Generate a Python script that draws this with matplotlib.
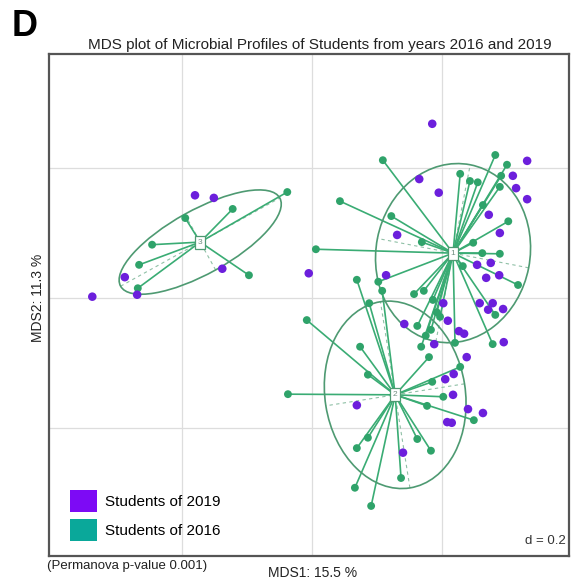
import matplotlib
matplotlib.use("Agg")
import matplotlib.pyplot as plt
from matplotlib.patches import Ellipse, Patch
import numpy as np

plt.rcParams['font.family'] = ['Liberation Sans', 'DejaVu Sans']

# ---- data (MDS coordinates) ----
group_labels = ["3", "1", "2"]
centroid_x = [-0.172, 0.217, 0.128]
centroid_y = [0.086, 0.069, -0.149]

# 2016 students (linked to their group centroid)
g3_x = [-0.038, -0.122, -0.195, -0.246, -0.266, -0.268, -0.097]
g3_y = [0.163, 0.137, 0.123, 0.082, 0.051, 0.015, 0.035]

g1_x = [0.109, 0.282, 0.300, 0.228, 0.243, 0.255, 0.289, 0.291, 0.263, 0.043,
        0.122, 0.302, 0.006, 0.169, 0.248, 0.262, 0.289, 0.232, 0.317, 0.157,
        0.172, 0.197, 0.162, 0.183, 0.168, 0.220, 0.278, 0.282, 0.102,
        0.186, 0.192, 0.175]
g1_y = [0.212, 0.220, 0.205, 0.191, 0.180, 0.178, 0.171, 0.188, 0.143, 0.149,
        0.126, 0.118, 0.075, 0.086, 0.085, 0.069, 0.068, 0.049, 0.020, 0.006,
        0.011, -0.029, -0.043, -0.049, -0.075, -0.069, -0.071, -0.026, 0.025,
        -0.003, -0.022, -0.058]

g2_x = [-0.008, 0.069, 0.088, 0.108, 0.074, 0.086, -0.037, 0.069, 0.086, 0.066,
        0.091, 0.137, 0.162, 0.183, 0.177, 0.202, 0.185, 0.228, 0.249, 0.180]
g2_y = [-0.034, 0.028, -0.008, 0.011, -0.075, -0.118, -0.148, -0.231, -0.215, -0.292,
        -0.320, -0.277, -0.217, -0.235, -0.166, -0.152, -0.129, -0.106, -0.188, -0.091]

# 2019 students
p19_x = [-0.180, -0.151, -0.288, -0.269, -0.338, -0.138, -0.005,
         0.185, 0.331, 0.309, 0.314, 0.331, 0.165, 0.195, 0.272, 0.289, 0.131,
         0.114, 0.275, 0.254, 0.268, 0.288, 0.202, 0.258, 0.278, 0.271, 0.294,
         0.142, 0.209, 0.226, 0.234, 0.188, 0.238, 0.295, 0.205, 0.218, 0.217,
         0.240, 0.263, 0.208, 0.215, 0.069, 0.140]
p19_y = [0.158, 0.154, 0.032, 0.005, 0.002, 0.045, 0.038,
         0.268, 0.211, 0.188, 0.169, 0.152, 0.183, 0.162, 0.128, 0.100, 0.097,
         0.035, 0.054, 0.051, 0.031, 0.035, -0.008, -0.008, -0.008, -0.018, -0.017,
         -0.040, -0.035, -0.051, -0.055, -0.071, -0.091, -0.068, -0.125, -0.117, -0.149,
         -0.171, -0.177, -0.191, -0.192, -0.165, -0.238]

# ellipse parameters per group (full axes lengths, angle in degrees)
ell_w = [0.280, 0.277, 0.290]
ell_h = [0.098, 0.237, 0.216]
ell_ang = [29, 79, 99]

legend_labels = ["Students of 2019", "Students of 2016"]
legend_colors = ["#7d0af5", "#0aa89a"]
grid_vals = [-0.2, 0.0, 0.2]

green_pt = "#2fa36a"
green_ln = "#3aac74"
ell_col = "#4e9a72"
purple = "#6c1fdc"

fig = plt.figure(figsize=(5.76, 5.84), dpi=100)
ax = fig.add_axes([49/576, 1-556/584, 520/576, 502/584])
ax.set_xlim(-0.4046, 0.3954)
ax.set_ylim(-0.397, 0.3754)
ax.set_xticks([]); ax.set_yticks([])
for s in ax.spines.values():
    s.set_color("#555555"); s.set_linewidth(1.6)

for g in grid_vals:
    ax.axvline(g, color="#dddddd", lw=0.9, zorder=0)
    ax.axhline(g, color="#dddddd", lw=0.9, zorder=0)

groups = [(g3_x, g3_y), (g1_x, g1_y), (g2_x, g2_y)]
for i, (gx, gy) in enumerate(groups):
    cx, cy = centroid_x[i], centroid_y[i]
    for x, y in zip(gx, gy):
        ax.plot([cx, x], [cy, y], color=green_ln, lw=1.2, zorder=2)
    e = Ellipse((cx, cy), ell_w[i], ell_h[i], angle=ell_ang[i], fill=False,
                edgecolor=ell_col, lw=1.2, zorder=2)
    ax.add_patch(e)
    # ellipse axes (dashed)
    a = np.deg2rad(ell_ang[i])
    ax.plot([cx - ell_w[i]/2*np.cos(a), cx + ell_w[i]/2*np.cos(a)],
            [cy - ell_w[i]/2*np.sin(a), cy + ell_w[i]/2*np.sin(a)],
            color="#8fc0a6", lw=0.8, ls=(0, (3, 3)), zorder=1.5)
    ax.plot([cx + ell_h[i]/2*np.sin(a), cx - ell_h[i]/2*np.sin(a)],
            [cy - ell_h[i]/2*np.cos(a), cy + ell_h[i]/2*np.cos(a)],
            color="#8fc0a6", lw=0.8, ls=(0, (3, 3)), zorder=1.5)
    ax.scatter(gx, gy, s=32, color=green_pt, edgecolors="none", zorder=3)
    ax.text(cx, cy, group_labels[i], ha="center", va="center", fontsize=6,
            color="#6f8f80", zorder=5,
            bbox=dict(boxstyle="square,pad=0.35", fc="white", ec=ell_col, lw=0.9))

ax.scatter(p19_x, p19_y, s=38, color=purple, edgecolors="none", zorder=4)

handles = [Patch(facecolor=c, edgecolor="none") for c in legend_colors]
ax.legend(handles, legend_labels, loc="lower left", bbox_to_anchor=(0.028, 0.018),
          frameon=False, fontsize=11, handlelength=1.8, handleheight=1.8,
          labelspacing=0.5, handletextpad=0.5, borderaxespad=0)

ax.text(0.993, 0.018, "d = 0.2", transform=ax.transAxes, ha="right", va="bottom",
        fontsize=9.5, color="#333333")

fig.text(12/576, 1-26/584, "D", fontsize=26, fontweight="bold", ha="left", va="center")
fig.text(320/576, 1-45/584, "MDS plot of Microbial Profiles of Students from years 2016 and 2019",
         ha="center", va="center", fontsize=11, color="#222222")
fig.text(38/576, 1-298/584, "MDS2: 11.3 %", rotation=90, ha="center", va="center",
         fontsize=10, color="#222222")
fig.text(313/576, 1-573/584, "MDS1: 15.5 %", ha="center", va="center",
         fontsize=10, color="#222222")
fig.text(47/576, 1-566/584, "(Permanova p-value 0.001)", ha="left", va="center",
         fontsize=9.5, color="#222222")

fig.savefig("out.png", dpi=100)
